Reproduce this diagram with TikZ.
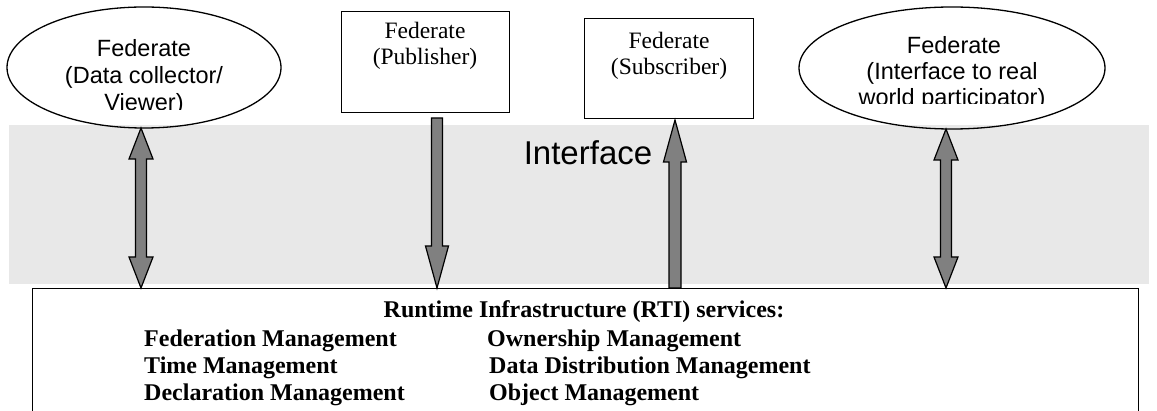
\documentclass[tikz,border=0pt]{standalone}
\usepackage{fontspec}
\setmainfont{Liberation Serif}
\newfontfamily\arialf{Liberation Sans}
\usetikzlibrary{shapes.geometric,calc}
\definecolor{bandgrey}{HTML}{E8E8E8}
\definecolor{arrowgrey}{HTML}{808080}
\newcommand\dblblock[2]{%
  \draw[blockarrow] let \p1=(#1), \p2=(#2) in
   (\x1,\y1) -- (\x1+12pt,\y1-31pt) -- (\x1+5.5pt,\y1-31pt) -- (\x1+5.5pt,\y2+31pt)
   -- (\x1+12pt,\y2+31pt) -- (\x2,\y2) -- (\x1-12pt,\y2+31pt) -- (\x1-5.5pt,\y2+31pt)
   -- (\x1-5.5pt,\y1-31pt) -- (\x1-12pt,\y1-31pt) -- cycle;}
\newcommand\downblock[2]{%
  \draw[blockarrow] let \p1=(#1), \p2=(#2) in
   (\x1-5.5pt,\y1) -- (\x1+5.5pt,\y1) -- (\x1+5.5pt,\y2+42pt) -- (\x1+11.5pt,\y2+42pt)
   -- (\x2,\y2) -- (\x1-11.5pt,\y2+42pt) -- (\x1-5.5pt,\y2+42pt) -- cycle;}
\newcommand\upblock[2]{%
  \draw[blockarrow] let \p1=(#1), \p2=(#2) in
   (\x1,\y1) -- (\x1+11.5pt,\y1-42pt) -- (\x1+6pt,\y1-42pt) -- (\x1+6pt,\y2)
   -- (\x1-6pt,\y2) -- (\x1-6pt,\y1-42pt) -- (\x1-11.5pt,\y1-42pt) -- cycle;}
\begin{document}
\begin{tikzpicture}[x=1pt,y=-1pt,
  outl/.style={draw=black,line width=1.3pt},
  sanstxt/.style={font=\arialf\fontsize{23.5}{27}\selectfont, inner sep=0, anchor=base},
  seriftxt/.style={font=\fontsize{23.5}{27}\selectfont, inner sep=0, anchor=base},
  rtihead/.style={font=\bfseries\fontsize{24}{27}\selectfont, inner sep=0, anchor=base},
  rtitxt/.style={font=\bfseries\fontsize{24}{27}\selectfont, inner sep=0, anchor=base west},
  blockarrow/.style={draw=black,line width=1.2pt,fill=arrowgrey,line join=miter,miter limit=10}]
\useasboundingbox (0,0) rectangle (1157,411);
\clip (0,0) rectangle (1157,411);
% interface band
\fill[bandgrey] (9,125) rectangle (1149,284);
\node[font=\arialf\fontsize{33}{37}\selectfont, anchor=base, inner sep=0] (iface) at (588,165) {Interface};
% federates
\node[outl, ellipse, minimum width=274, minimum height=121, inner sep=0] (e1) at (144,67.5) {};
\node[outl, ellipse, minimum width=306, minimum height=122, inner sep=0] (e4) at (952,68) {};
\node[outl, rectangle, anchor=north west, minimum width=168, minimum height=101, inner sep=0] (pub) at (341,11) {};
\node[outl, rectangle, anchor=north west, minimum width=169, minimum height=100, inner sep=0] (sub) at (584,18) {};
\begin{scope}
\clip (0,0) rectangle (300,110);
\node[sanstxt] (e1a) at (144,57) {Federate};
\node[sanstxt] (e1b) at (144,84) {(Data collector/};
\node[sanstxt] (e1c) at (144,111) {Viewer)};
\end{scope}
\begin{scope}
\clip (790,0) rectangle (1110,104);
\node[sanstxt] (e4a) at (954,54) {Federate};
\node[sanstxt] (e4b) at (952,80) {(Interface to real};
\node[sanstxt] (e4c) at (952,106) {world participator)};
\end{scope}
\node[seriftxt] (puba) at (425,39) {Federate};
\node[seriftxt] (pubb) at (425,65) {(Publisher)};
\node[seriftxt] (suba) at (669,49) {Federate};
\node[seriftxt] (subb) at (669,75) {(Subscriber)};
% RTI
\node[outl, line width=1.4pt, rectangle, anchor=north west, minimum width=1106, minimum height=150, inner sep=0] (rti) at (32,288) {};
\node[rtihead] (rtih) at (584,318) {Runtime Infrastructure (RTI) services:};
\node[rtitxt] (s1) at (144,347) {Federation Management};
\node[rtitxt] (s2) at (144,374) {Time Management};
\node[rtitxt] (s3) at (144,401) {Declaration Management};
\node[rtitxt] (s4) at (487,347) {Ownership Management};
\node[rtitxt] (s5) at (489,374) {Data Distribution Management};
\node[rtitxt] (s6) at (489,401) {Object Management};
% arrows
\coordinate (a1t) at (141,128); \coordinate (a1b) at (141,288);
\coordinate (a2t) at (437,118); \coordinate (a2b) at (437,288);
\coordinate (a3t) at (675,120); \coordinate (a3b) at (675,288);
\coordinate (a4t) at (946,129); \coordinate (a4b) at (946,288);
\dblblock{a1t}{a1b}
\downblock{a2t}{a2b}
\upblock{a3t}{a3b}
\dblblock{a4t}{a4b}
\end{tikzpicture}
\end{document}
